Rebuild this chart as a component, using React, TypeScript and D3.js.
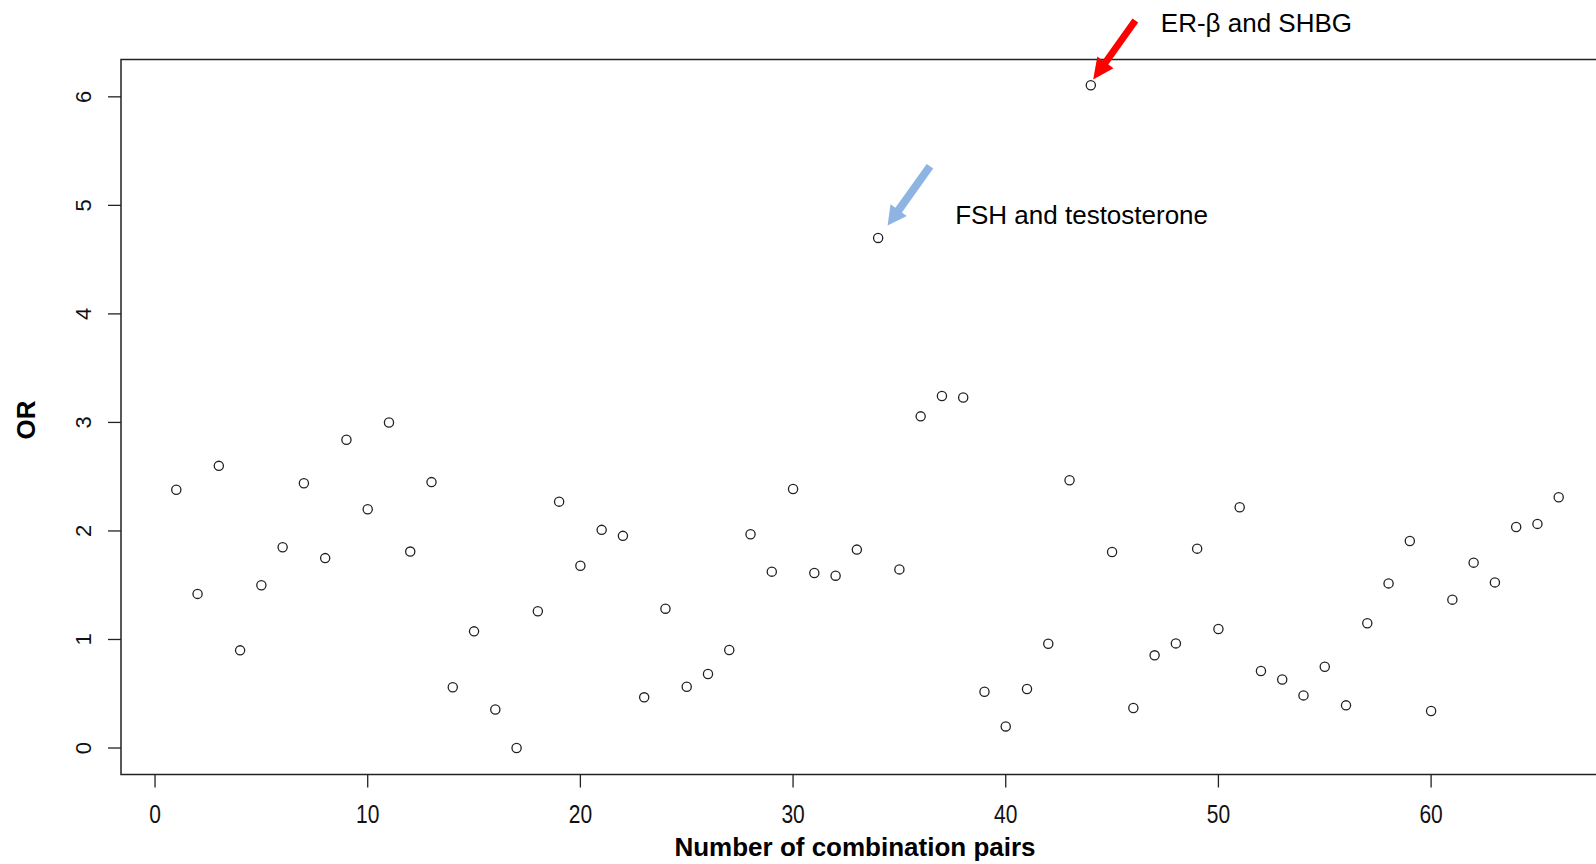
import React from "react";
import * as d3 from "d3";

// OR value for each combination pair (pair number = position + 1)
const orValues: number[] = [
  2.38, 1.42, 2.6, 0.9, 1.5, 1.85, 2.44, 1.75, 2.84, 2.2,
  3.0, 1.81, 2.45, 0.56, 1.075, 0.355, 0.0, 1.26, 2.27, 1.68,
  2.01, 1.955, 0.467, 1.284, 0.565, 0.682, 0.903, 1.97, 1.625, 2.387,
  1.613, 1.588, 1.828, 4.7, 1.646, 3.056, 3.244, 3.229, 0.519, 0.199,
  0.544, 0.961, 2.467, 6.107, 1.806, 0.369, 0.854, 0.964, 1.837, 1.097,
  2.218, 0.71, 0.632, 0.485, 0.749, 0.393, 1.149, 1.517, 1.908, 0.341,
  1.367, 1.708, 1.526, 2.037, 2.065, 2.31,
];

const xTicks: number[] = [0, 10, 20, 30, 40, 50, 60];
const yTicks: number[] = [0, 1, 2, 3, 4, 5, 6];

const xTitle = "Number of combination pairs";
const yTitle = "OR";

// annotations: which pair they point at, label, colour
const annotations = [
  { pair: 44, label: "ER-β and SHBG", color: "#ff0000" },
  { pair: 34, label: "FSH and testosterone", color: "#8db4e2" },
];

const FONT = "'Liberation Sans', Arial, Helvetica, sans-serif";

function blockArrow(
  tx: number, ty: number, hx: number, hy: number,
  shaftW: number, headW: number, headL: number
): string {
  const dx = hx - tx;
  const dy = hy - ty;
  const len = Math.sqrt(dx * dx + dy * dy);
  const ux = dx / len, uy = dy / len;
  const px = -uy, py = ux;
  const bx = hx - ux * headL, by = hy - uy * headL;
  const pts = [
    [tx + px * shaftW / 2, ty + py * shaftW / 2],
    [bx + px * shaftW / 2, by + py * shaftW / 2],
    [bx + px * headW / 2, by + py * headW / 2],
    [hx, hy],
    [bx - px * headW / 2, by - py * headW / 2],
    [bx - px * shaftW / 2, by - py * shaftW / 2],
    [tx - px * shaftW / 2, ty - py * shaftW / 2],
  ];
  return pts.map((p) => p[0].toFixed(1) + "," + p[1].toFixed(1)).join(" ");
}

export default function App() {
  const W = 1596, H = 864;
  const x = d3.scaleLinear().domain([-1.6, 68.6]).range([121, 1614]);
  const y = d3.scaleLinear().domain([-0.244, 6.344]).range([774.5, 59.5]);
  const [x0, x1] = x.range();
  const [yb, yt] = y.range();

  const points = orValues.map((v, i) => ({ pair: i + 1, v }));

  // arrow geometry relative to the annotated point
  const arrowGeom: Record<number, { tdx: number; tdy: number; hdx: number; hdy: number; sw: number; hw: number; hl: number; lx: number; ly: number }> = {
    44: { tdx: 44.5, tdy: -64.7, hdx: 2.4, hdy: -5.7, sw: 7, hw: 20, hl: 21, lx: 70, ly: -53 },
    34: { tdx: 51.8, tdy: -71.6, hdx: 9.5, hdy: -12.3, sw: 8, hw: 20, hl: 19, lx: 77, ly: -14 },
  };

  return (
    <>
      <style>{`body{margin:0;background:#fff}`}</style>
      <svg width={W} height={H} style={{ display: "block", background: "#fff" }}>
        {/* frame */}
        <rect x={x0} y={yt} width={x1 - x0} height={yb - yt} fill="none" stroke="#222" strokeWidth={1.5} />

        {/* x axis */}
        {xTicks.map((t) => (
          <g key={"xt" + t}>
            <line x1={x(t)} x2={x(t)} y1={yb} y2={yb + 13} stroke="#222" strokeWidth={1.3} />
            <text
              transform={`translate(${x(t)},823) scale(1,1.2)`}
              textAnchor="middle"
              fontFamily={FONT}
              fontSize={21}
              fill="#111"
            >
              {t}
            </text>
          </g>
        ))}
        {/* y axis */}
        {yTicks.map((t) => (
          <g key={"yt" + t}>
            <line x1={x0} x2={x0 - 13} y1={y(t)} y2={y(t)} stroke="#222" strokeWidth={1.3} />
            <text
              transform={`translate(91,${y(t)}) rotate(-90)`}
              textAnchor="middle"
              fontFamily={FONT}
              fontSize={22}
              fill="#111"
            >
              {t}
            </text>
          </g>
        ))}

        <text x={855} y={856} textAnchor="middle" fontFamily={FONT} fontSize={26} fontWeight="bold" fill="#000">
          {xTitle}
        </text>
        <text transform={`translate(35,420) rotate(-90)`} textAnchor="middle" fontFamily={FONT} fontSize={26} fontWeight="bold" fill="#000">
          {yTitle}
        </text>

        {/* points */}
        {points.map((p) => (
          <circle key={"p" + p.pair} cx={x(p.pair)} cy={y(p.v)} r={4.6} fill="none" stroke="#222" strokeWidth={1.3} />
        ))}

        {/* annotations */}
        {annotations.map((a) => {
          const px = x(a.pair);
          const py = y(orValues[a.pair - 1]);
          const g = arrowGeom[a.pair];
          return (
            <g key={"a" + a.pair}>
              <polygon
                points={blockArrow(px + g.tdx, py + g.tdy, px + g.hdx, py + g.hdy, g.sw, g.hw, g.hl)}
                fill={a.color}
              />
              <text x={px + g.lx} y={py + g.ly} fontFamily={FONT} fontSize={26} fill="#000">
                {a.label}
              </text>
            </g>
          );
        })}
      </svg>
    </>
  );
}
